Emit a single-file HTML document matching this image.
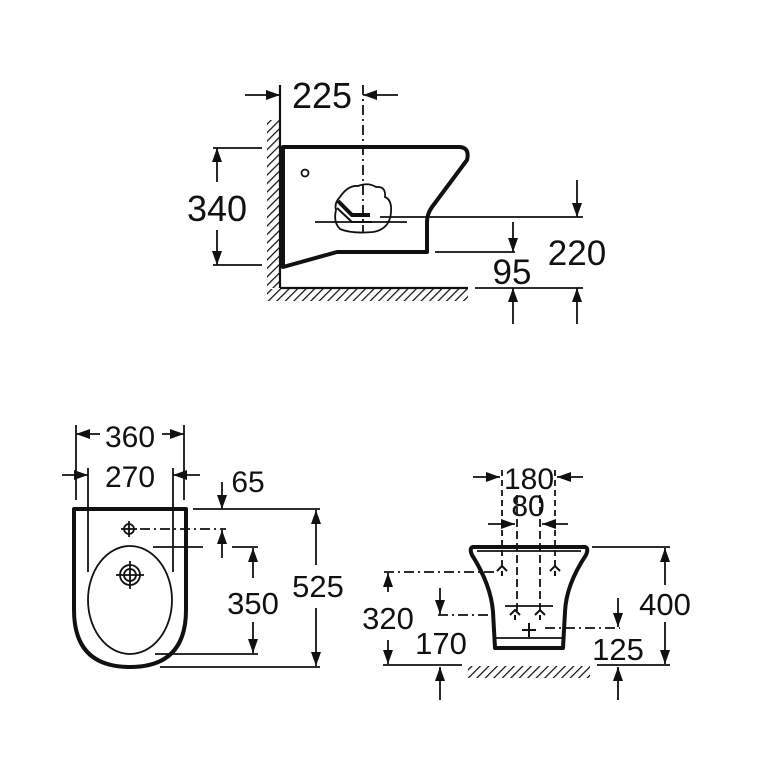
<!DOCTYPE html>
<html><head><meta charset="utf-8"><style>
html,body{margin:0;padding:0;background:#fff}
svg{display:block}
text{font-family:"Liberation Sans",sans-serif;fill:#111;text-anchor:middle}
</style></head><body>
<svg width="768" height="768" viewBox="0 0 768 768" xmlns="http://www.w3.org/2000/svg">
<defs>
<marker id="a" viewBox="0 0 14 10" refX="14" refY="5" markerWidth="14" markerHeight="10" markerUnits="userSpaceOnUse" orient="auto"><path d="M0,0 L14,5 L0,10 Z" fill="#111"/></marker>
<pattern id="h" width="6" height="6" patternUnits="userSpaceOnUse" patternTransform="rotate(45)"><line x1="0" y1="0" x2="0" y2="6" stroke="#111" stroke-width="2.5"/></pattern>
</defs>
<g stroke="#111" fill="none" stroke-width="1.8">
<!-- TOP VIEW -->
<rect x="267" y="120" width="12" height="168" fill="url(#h)" stroke="none"/>
<rect x="267" y="289" width="201" height="12" fill="url(#h)" stroke="none"/>
<line x1="280" y1="85" x2="280" y2="288" stroke-width="2.2"/>
<line x1="280" y1="288" x2="468" y2="288" stroke-width="2.2"/>
<path d="M283,147 L460,147 Q470,148 467,160 L432,207 Q427,214 427,222 L427,252 L337,252 L283,267 Z" stroke-width="4" stroke-linejoin="round"/>
<circle cx="305" cy="173" r="3.5"/>
<path d="M340,197 Q348,185 358,186 Q368,182 376,187 Q386,186 385,197 Q392,200 391,212 Q390,229 373,232 Q352,234 340,229 Q333,222 336,210 Q334,203 340,197 Z" stroke-width="1.8"/>
<path d="M338,201 L352,215 L370,215" stroke-width="4"/>
<path d="M337,208 L352,222 L372,222" stroke-width="2"/>
<line x1="363" y1="85" x2="363" y2="232" stroke-dasharray="10,4,2,4"/>
<line x1="315" y1="222" x2="407" y2="222"/>
<line x1="380" y1="217" x2="583" y2="217"/>
<line x1="435" y1="252" x2="515" y2="252"/>
<line x1="475" y1="288" x2="583" y2="288"/>
<line x1="245" y1="95" x2="280" y2="95" marker-end="url(#a)"/>
<line x1="398" y1="95" x2="363" y2="95" marker-end="url(#a)"/>
<line x1="213" y1="148" x2="262" y2="148"/>
<line x1="213" y1="265" x2="262" y2="265"/>
<line x1="217" y1="182" x2="217" y2="148" marker-end="url(#a)"/>
<line x1="217" y1="230" x2="217" y2="265" marker-end="url(#a)"/>
<line x1="577" y1="180" x2="577" y2="217" marker-end="url(#a)"/>
<line x1="513" y1="222" x2="513" y2="252" marker-end="url(#a)"/>
<line x1="513" y1="324" x2="513" y2="288" marker-end="url(#a)"/>
<line x1="577" y1="324" x2="577" y2="288" marker-end="url(#a)"/>

<!-- FRONT VIEW -->
<path d="M74,509 L186,509 L186,610 Q186,667 130,667 Q74,667 74,610 Z" stroke-width="4" stroke-linejoin="round"/>
<ellipse cx="130" cy="600" rx="42" ry="54"/>
<circle cx="129" cy="529" r="5"/>
<line x1="121" y1="529" x2="137" y2="529"/><line x1="129" y1="521" x2="129" y2="537"/>
<circle cx="130" cy="575" r="10"/><circle cx="130" cy="575" r="6"/>
<line x1="116" y1="575" x2="144" y2="575"/><line x1="130" y1="561" x2="130" y2="589"/>
<line x1="76" y1="425" x2="76" y2="500"/><line x1="184" y1="425" x2="184" y2="500"/>
<line x1="88" y1="468" x2="88" y2="572"/><line x1="173" y1="468" x2="173" y2="572"/>
<line x1="100" y1="434" x2="76" y2="434" marker-end="url(#a)"/>
<line x1="162" y1="434" x2="184" y2="434" marker-end="url(#a)"/>
<line x1="62" y1="475" x2="88" y2="475" marker-end="url(#a)"/>
<line x1="200" y1="475" x2="173" y2="475" marker-end="url(#a)"/>
<line x1="193" y1="509" x2="320" y2="509"/>
<line x1="222" y1="482" x2="222" y2="509" marker-end="url(#a)"/>
<line x1="140" y1="529" x2="226" y2="529" stroke-dasharray="10,4,2,4"/>
<line x1="222" y1="558" x2="222" y2="530" marker-end="url(#a)"/>
<line x1="153" y1="547" x2="203" y2="547"/><line x1="232" y1="547" x2="258" y2="547"/>
<line x1="155" y1="654" x2="258" y2="654"/>
<line x1="160" y1="667" x2="320" y2="667"/>
<line x1="253" y1="578" x2="253" y2="548" marker-end="url(#a)"/>
<line x1="253" y1="622" x2="253" y2="653" marker-end="url(#a)"/>
<line x1="316" y1="565" x2="316" y2="510" marker-end="url(#a)"/>
<line x1="316" y1="608" x2="316" y2="666" marker-end="url(#a)"/>

<!-- SIDE VIEW -->
<path d="M473,547 L585,547 Q589,548 586,555 Q566,585 565,612 L563,648 L495,648 L493,612 Q491,585 472,555 Q469,548 473,547 Z" stroke-width="4" stroke-linejoin="round"/>
<line x1="477" y1="551" x2="581" y2="551"/>
<line x1="496" y1="638" x2="562" y2="638"/>
<line x1="502" y1="470" x2="502" y2="568" stroke-dasharray="6,4"/>
<line x1="555" y1="470" x2="555" y2="568" stroke-dasharray="6,4"/>
<line x1="517" y1="495" x2="517" y2="612" stroke-dasharray="8,4"/>
<line x1="540" y1="495" x2="540" y2="612" stroke-dasharray="8,4"/>
<line x1="473" y1="477" x2="500" y2="477" marker-end="url(#a)"/>
<line x1="583" y1="477" x2="557" y2="477" marker-end="url(#a)"/>
<line x1="488" y1="524" x2="515" y2="524" marker-end="url(#a)"/>
<line x1="568" y1="524" x2="542" y2="524" marker-end="url(#a)"/>
<g stroke-width="2">
<path d="M497,571 L502,566 L507,571 M502,576 L502,571"/><path d="M550,571 L555,566 L560,571 M555,576 L555,571"/>
<path d="M510,615 L515,610 L520,615 M515,620 L515,615"/><path d="M535,615 L540,610 L545,615 M540,620 L540,615"/>
<path d="M522,630 L536,630 M529,623 L529,637"/>
</g>
<line x1="384" y1="572" x2="498" y2="572" stroke-dasharray="10,4,2,4"/>
<line x1="438" y1="615" x2="495" y2="615" stroke-dasharray="10,4,2,4"/>
<line x1="505" y1="606" x2="553" y2="606"/>
<line x1="545" y1="628" x2="620" y2="628" stroke-dasharray="10,4,2,4"/>
<rect x="468" y="666" width="122" height="12" fill="url(#h)" stroke="none"/>
<line x1="383" y1="665" x2="462" y2="665"/>
<line x1="597" y1="665" x2="670" y2="665"/>
<line x1="592" y1="547" x2="670" y2="547"/>
<line x1="388" y1="592" x2="388" y2="573" marker-end="url(#a)"/>
<line x1="388" y1="640" x2="388" y2="664" marker-end="url(#a)"/>
<line x1="440" y1="588" x2="440" y2="614" marker-end="url(#a)"/>
<line x1="440" y1="700" x2="440" y2="667" marker-end="url(#a)"/>
<line x1="618" y1="598" x2="618" y2="627" marker-end="url(#a)"/>
<line x1="618" y1="700" x2="618" y2="667" marker-end="url(#a)"/>
<line x1="665" y1="585" x2="665" y2="548" marker-end="url(#a)"/>
<line x1="665" y1="622" x2="665" y2="664" marker-end="url(#a)"/>
</g>
<g>
<text x="322" y="108" font-size="36">225</text>
<text x="217" y="221" font-size="36">340</text>
<text x="577" y="265" font-size="35">220</text>
<text x="512" y="284" font-size="35">95</text>
<text x="130" y="447" font-size="30">360</text>
<text x="130" y="487" font-size="30">270</text>
<text x="248" y="492" font-size="30">65</text>
<text x="253" y="614" font-size="31">350</text>
<text x="318" y="597" font-size="31">525</text>
<text x="529" y="489" font-size="30">180</text>
<text x="528" y="516" font-size="30">80</text>
<text x="388" y="629" font-size="31">320</text>
<text x="441" y="654" font-size="31">170</text>
<text x="618" y="660" font-size="31">125</text>
<text x="665" y="615" font-size="31">400</text>
</g>
</svg>
</body></html>
